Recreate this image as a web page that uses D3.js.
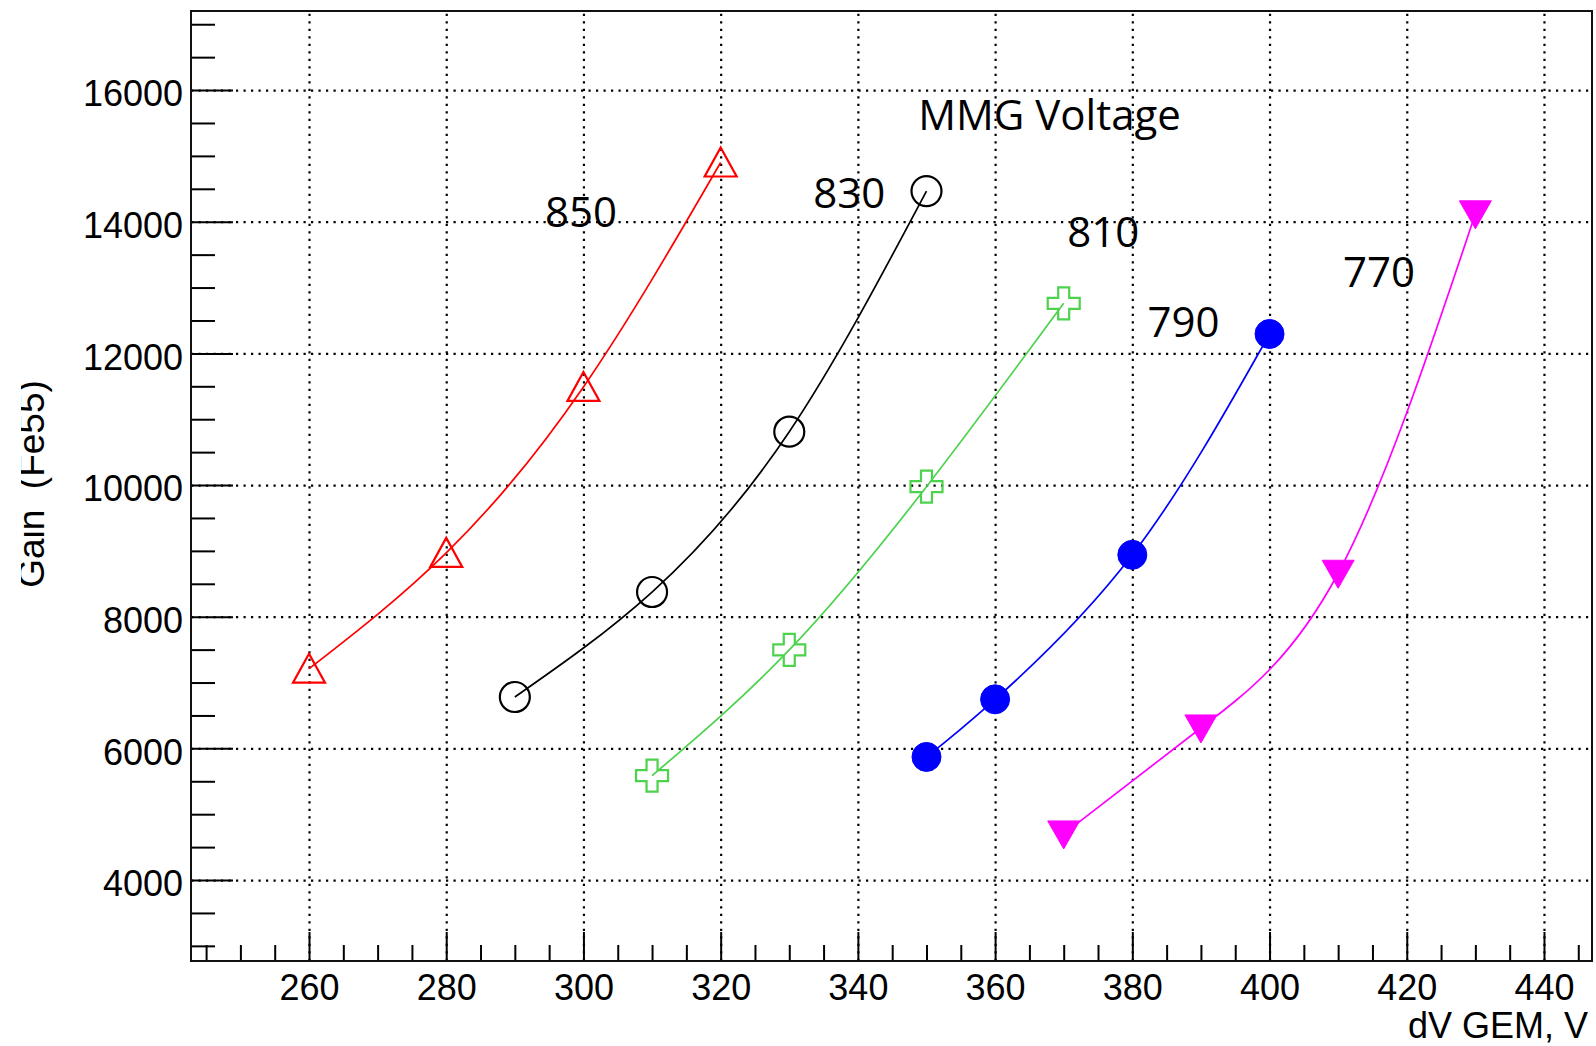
<!DOCTYPE html>
<html>
<head>
<meta charset="utf-8">
<script src="https://cdn.jsdelivr.net/npm/d3@7"></script>
<style>
	body { margin: 0; background: #fff; }
	svg { display: block; }
</style>
</head>
<body>
<div id="chart"></div>
<script>
// data
const mmgVoltages = [850, 830, 810, 790, 770]
const gemVoltages = [
	[260, 280, 300, 320],
	[290, 310, 330, 350],
	[310, 330, 350, 370],
	[350, 360, 380, 400],
	[370, 390, 410, 430]
]
const gains = [
	[7210, 8970, 11490, 14900],
	[6780, 8375, 10810, 14465],
	[5585, 7495, 9975, 12760],
	[5870, 6745, 8940, 12295],
	[4700, 6310, 8660, 14120]
]
const xMajorTicks = [260, 280, 300, 320, 340, 360, 380, 400, 420, 440]
const yMajorTicks = [4000, 6000, 8000, 10000, 12000, 14000, 16000]
const xMinorTicks = d3.range(245, 450, 5).filter(v => !xMajorTicks.includes(v))
const yMinorTicks = d3.range(3000, 17001, 500).filter(v => !yMajorTicks.includes(v))
const annotationText = ['MMG Voltage', '850', '830', '810', '790', '770']
const annotationAt = [[348.8, 15393], [294.4, 13920], [333.5, 14208], [370.5, 13616], [382.2, 12249], [410.7, 13008]]

const W = 1596, H = 1046
const frame = {left: 191, right: 1592, top: 11, bottom: 961}
const colours = ['#ff0000', '#000000', '#4cd24c', '#0000ff', '#ff00ff']

const svg = d3.select('#chart').append('svg').attr('width', W).attr('height', H)

const x = d3.scaleLinear().domain([242.8, 447.0]).range([frame.left, frame.right])
const y = d3.scaleLinear().domain([2770, 17201]).range([frame.bottom, frame.top])
const plotW = frame.right - frame.left, plotH = frame.bottom - frame.top

// dotted grid
const grid = svg.append('g').attr('class', 'grid')
grid.append('g')
	.attr('transform', `translate(0,${frame.bottom})`)
	.call(d3.axisBottom(x).tickValues(xMajorTicks).tickSize(-plotH).tickFormat(''))
grid.append('g')
	.attr('transform', `translate(${frame.left},0)`)
	.call(d3.axisLeft(y).tickValues(yMajorTicks).tickSize(-plotW).tickFormat(''))
grid.selectAll('.domain').remove()
grid.selectAll('line').attr('stroke', '#000').attr('stroke-width', 2.2).attr('stroke-dasharray', '2.2,5.3')

// axes, ticks drawn inwards
const axisFont = g => g.attr('font-family', '"Liberation Sans", Arial, Helvetica, sans-serif').attr('font-size', 36)

const xAxis = svg.append('g').attr('transform', `translate(0,${frame.bottom})`)
xAxis.call(d3.axisBottom(x).tickValues(xMajorTicks).tickSize(-29).tickPadding(13).tickFormat(d3.format('d'))).call(axisFont)
svg.append('g').attr('transform', `translate(0,${frame.bottom})`)
	.call(d3.axisBottom(x).tickValues(xMinorTicks).tickSize(-16).tickFormat(''))
	.attr('class', 'minor')

const yAxis = svg.append('g').attr('transform', `translate(${frame.left},0)`)
yAxis.call(d3.axisLeft(y).tickValues(yMajorTicks).tickSize(-42).tickPadding(8).tickFormat(d3.format('d'))).call(axisFont)
yAxis.selectAll('text').attr('dy', '0.44em')
svg.append('g').attr('transform', `translate(${frame.left},0)`)
	.call(d3.axisLeft(y).tickValues(yMinorTicks).tickSize(-24).tickFormat(''))
	.attr('class', 'minor')

svg.selectAll('.domain').remove()
svg.selectAll('.tick line').filter(function () { return !this.closest('.grid') })
	.attr('stroke', '#000').attr('stroke-width', 2)
svg.selectAll('.tick text').attr('fill', '#000')

// frame
svg.append('rect')
	.attr('x', frame.left).attr('y', frame.top)
	.attr('width', plotW).attr('height', plotH)
	.attr('fill', 'none').attr('stroke', '#111').attr('stroke-width', 2)

// axis titles
svg.append('text')
	.attr('x', frame.right - 4).attr('y', 1038)
	.attr('text-anchor', 'end')
	.call(axisFont)
	.text('dV GEM, V')

// y title: the top of the letters is cut off in the original
svg.append('clipPath').attr('id', 'ylabClip')
	.append('rect').attr('x', 21).attr('y', 0).attr('width', 60).attr('height', H)
svg.append('g')
	.attr('clip-path', 'url(#ylabClip)')
	.append('text')
	.attr('transform', 'translate(44,484) rotate(-90)')
	.attr('text-anchor', 'middle')
	.style('white-space', 'pre')
	.call(axisFont)
	.attr('font-size', 37)
	.text('Gain  (Fe55)')

// marker shapes (ROOT style)
const markerTypes = [
	{draw(c) { c.moveTo(0, -15); c.lineTo(16, 14); c.lineTo(-16, 14); c.closePath() }},
	{draw(c) { c.moveTo(15, 0); c.arc(0, 0, 15, 0, 2 * Math.PI) }},
	{draw(c) {
		const a = 5.5, b = 16
		c.moveTo(-a, -b); c.lineTo(a, -b); c.lineTo(a, -a); c.lineTo(b, -a); c.lineTo(b, a); c.lineTo(a, a)
		c.lineTo(a, b); c.lineTo(-a, b); c.lineTo(-a, a); c.lineTo(-b, a); c.lineTo(-b, -a); c.lineTo(-a, -a); c.closePath()
	}},
	{draw(c) { c.moveTo(14.5, 0); c.arc(0, 0, 14.5, 0, 2 * Math.PI) }},
	{draw(c) { c.moveTo(-16, -13); c.lineTo(16, -13); c.lineTo(0, 15); c.closePath() }}
]
const filled = [false, false, false, true, true]

const series = mmgVoltages.map((v, i) => ({
	mmg: v,
	colour: colours[i],
	points: gemVoltages[i].map((g, j) => ({x: g, y: gains[i][j]}))
}))

const line = d3.line().x(d => x(d.x)).y(d => y(d.y)).curve(d3.curveNatural)

const sg = svg.selectAll('.series').data(series).enter().append('g').attr('class', 'series')
sg.append('path')
	.attr('d', d => line(d.points))
	.attr('fill', 'none')
	.attr('stroke', d => d.colour)
	.attr('stroke-width', 1.7)

sg.each(function (d, i) {
	d3.select(this).selectAll('.marker').data(d.points).enter().append('path')
		.attr('class', 'marker')
		.attr('transform', p => `translate(${x(p.x)},${y(p.y)})`)
		.attr('d', d3.symbol().type(markerTypes[i]))
		.attr('fill', filled[i] ? d.colour : 'none')
		.attr('stroke', d.colour)
		.attr('stroke-width', filled[i] ? 1 : 2.2)
})

// annotations
svg.selectAll('.note').data(annotationText).enter().append('text')
	.attr('class', 'note')
	.attr('x', (t, i) => x(annotationAt[i][0]))
	.attr('y', (t, i) => y(annotationAt[i][1]))
	.attr('font-family', '"Open Sans", Lato, sans-serif')
	.attr('font-size', 42)
	.attr('fill', '#000')
	.text(t => t)
</script>
</body>
</html>
